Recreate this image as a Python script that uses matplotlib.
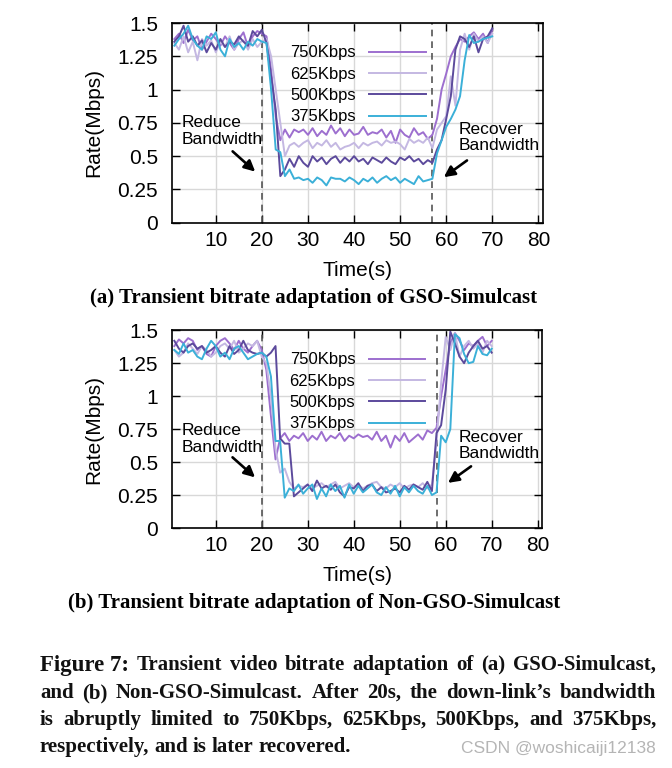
import numpy as np
import matplotlib
matplotlib.use('Agg')
import matplotlib.pyplot as plt

plt.rcParams['font.family'] = ['Liberation Sans', 'DejaVu Sans']

# time axis (seconds)
t = np.arange(1, 71)

# (a) GSO-Simulcast
gso_750 = [1.38, 1.42, 1.35, 1.45, 1.37, 1.40, 1.30, 1.36, 1.42, 1.38,
           1.33, 1.40, 1.35, 1.30, 1.38, 1.43, 1.32, 1.40, 1.44, 1.42,
           1.40, 1.15, 0.80, 0.62, 0.70, 0.64, 0.70, 0.68, 0.70, 0.66,
           0.71, 0.65, 0.69, 0.66, 0.73, 0.67, 0.71, 0.65, 0.70, 0.66,
           0.67, 0.72, 0.66, 0.68, 0.67, 0.70, 0.64, 0.69, 0.60, 0.70,
           0.66, 0.64, 0.71, 0.66, 0.68, 0.63, 0.66, 0.78, 1.00, 1.12,
           1.25, 1.32, 1.38, 1.36, 1.40, 1.43, 1.38, 1.42, 1.35, 1.45]
gso_625 = [1.35, 1.30, 1.40, 1.28, 1.36, 1.22, 1.38, 1.33, 1.37, 1.28,
           1.36, 1.32, 1.40, 1.30, 1.35, 1.37, 1.30, 1.38, 1.32, 1.36,
           1.38, 1.25, 1.00, 0.75, 0.50, 0.58, 0.60, 0.57, 0.60, 0.62,
           0.56, 0.60, 0.58, 0.62, 0.57, 0.60, 0.55, 0.57, 0.58, 0.60,
           0.56, 0.60, 0.58, 0.60, 0.61, 0.58, 0.62, 0.60, 0.61, 0.59,
           0.55, 0.63, 0.60, 0.62, 0.60, 0.64, 0.56, 0.70, 0.75, 0.80,
           1.10, 0.88, 1.30, 1.42, 1.30, 1.42, 1.36, 1.40, 1.35, 1.42]
gso_500 = [1.36, 1.40, 1.48, 1.36, 1.40, 1.33, 1.37, 1.28, 1.35, 1.30,
           1.38, 1.32, 1.36, 1.34, 1.40, 1.36, 1.33, 1.44, 1.40, 1.45,
           1.35, 1.10, 0.85, 0.35, 0.40, 0.48, 0.42, 0.50, 0.45, 0.42,
           0.50, 0.46, 0.49, 0.44, 0.48, 0.50, 0.45, 0.49, 0.46, 0.50,
           0.46, 0.48, 0.44, 0.49, 0.47, 0.45, 0.49, 0.46, 0.44, 0.49,
           0.47, 0.50, 0.46, 0.48, 0.44, 0.47, 0.45, 0.55, 0.62, 0.78,
           0.95, 1.30, 1.40, 1.38, 1.32, 1.40, 1.28, 1.38, 1.40, 1.46]
gso_375 = [1.33, 1.38, 1.42, 1.48, 1.38, 1.33, 1.30, 1.40, 1.38, 1.43,
           1.30, 1.25, 1.38, 1.32, 1.35, 1.30, 1.36, 1.33, 1.38, 1.36,
           1.35, 1.00, 0.55, 0.53, 0.35, 0.40, 0.33, 0.34, 0.32, 0.33,
           0.30, 0.34, 0.32, 0.28, 0.34, 0.33, 0.33, 0.31, 0.34, 0.32,
           0.29, 0.33, 0.31, 0.34, 0.30, 0.33, 0.35, 0.32, 0.34, 0.30,
           0.33, 0.31, 0.29, 0.35, 0.31, 0.32, 0.33, 0.52, 0.62, 0.72,
           0.78, 0.85, 0.95, 1.22, 1.41, 1.35, 1.36, 1.38, 1.39, 1.40]

# (b) Non-GSO-Simulcast
non_750 = [1.38, 1.43, 1.40, 1.44, 1.42, 1.35, 1.38, 1.32, 1.30, 1.38,
           1.42, 1.44, 1.40, 1.35, 1.42, 1.36, 1.33, 1.38, 1.42, 1.35,
           1.20, 0.85, 0.52, 0.68, 0.72, 0.66, 0.70, 0.68, 0.72, 0.66,
           0.70, 0.67, 0.73, 0.66, 0.70, 0.68, 0.72, 0.66, 0.70, 0.68,
           0.71, 0.69, 0.70, 0.67, 0.73, 0.66, 0.70, 0.61, 0.70, 0.66,
           0.72, 0.65, 0.68, 0.71, 0.67, 0.74, 0.72, 0.76, 1.00, 1.20,
           1.40, 1.48, 1.42, 1.35, 1.40, 1.38, 1.42, 1.45, 1.38, 1.42]
non_625 = [1.35, 1.30, 1.33, 1.40, 1.36, 1.32, 1.38, 1.35, 1.30, 1.33,
           1.38, 1.40, 1.36, 1.42, 1.33, 1.36, 1.40, 1.38, 1.42, 1.30,
           1.25, 1.00, 0.60, 0.42, 0.45, 0.35, 0.30, 0.32, 0.31, 0.33,
           0.30, 0.32, 0.34, 0.31, 0.33, 0.35, 0.30, 0.32, 0.34, 0.31,
           0.33, 0.30, 0.32, 0.34, 0.35, 0.31, 0.30, 0.33, 0.31, 0.34,
           0.30, 0.32, 0.33, 0.31, 0.34, 0.30, 0.33, 0.65, 1.10, 1.45,
           1.35, 1.48, 1.30, 1.38, 1.42, 1.36, 1.40, 1.33, 1.42, 1.38]
non_500 = [1.42, 1.36, 1.33, 1.38, 1.40, 1.36, 1.38, 1.33, 1.35, 1.38,
           1.33, 1.30, 1.38, 1.32, 1.35, 1.42, 1.35, 1.33, 1.32, 1.33,
           1.30, 1.33, 1.38, 0.68, 0.64, 0.64, 0.24, 0.27, 0.30, 0.33,
           0.28, 0.36, 0.30, 0.32, 0.29, 0.33, 0.27, 0.24, 0.31, 0.30,
           0.34, 0.28, 0.32, 0.33, 0.28, 0.31, 0.27, 0.28, 0.30, 0.27,
           0.32, 0.29, 0.33, 0.31, 0.29, 0.35, 0.28, 0.72, 0.78, 1.05,
           1.49, 1.40, 1.30, 1.25, 1.33, 1.38, 1.42, 1.36, 1.38, 1.33]
non_375 = [1.35, 1.32, 1.40, 1.33, 1.35, 1.30, 1.28, 1.36, 1.42, 1.38,
           1.30, 1.33, 1.28, 1.36, 1.38, 1.33, 1.28, 1.30, 1.32, 1.33,
           1.30, 1.15, 0.66, 0.66, 0.23, 0.30, 0.28, 0.33, 0.26, 0.30,
           0.33, 0.22, 0.30, 0.24, 0.33, 0.28, 0.32, 0.23, 0.33, 0.26,
           0.32, 0.27, 0.30, 0.33, 0.27, 0.25, 0.31, 0.26, 0.32, 0.24,
           0.31, 0.27, 0.32, 0.28, 0.26, 0.32, 0.25, 0.27, 0.70, 0.65,
           0.75, 1.47, 1.44, 1.32, 1.25, 1.26, 1.38, 1.32, 1.31, 1.36]

labels = ['750Kbps', '625Kbps', '500Kbps', '375Kbps']
colors = ['#9d6fcf', '#c4b8e2', '#5c4a9c', '#3bb0d8']
events_a = [20, 57]   # reduce / recover bandwidth
events_b = [20, 58]

y_ticks = [0, 0.25, 0.5, 0.75, 1, 1.25, 1.5]
y_ticklabels = ['0', '0.25', '0.5', '0.75', '1', '1.25', '1.5']
x_ticks = [10, 20, 30, 40, 50, 60, 70, 80]

fig = plt.figure(figsize=(6.72, 7.68), dpi=100)
ax_a = fig.add_axes([0.256, 0.710, 0.552, 0.260])
ax_b = fig.add_axes([0.256, 0.3125, 0.551, 0.2575])


def draw_panel(ax, series, events, caption, cap_y, note_y):
    for s, c, lab in zip(series, colors, labels):
        ax.plot(t, s, color=c, lw=1.4, label=lab)
    for e in events:
        ax.axvline(e, color='#555555', lw=1.2, ls=(0, (4, 3)), zorder=1)
    ax.set_xlim(0.5, 81)
    ax.set_ylim(0, 1.5)
    ax.set_xticks(x_ticks)
    ax.set_yticks(y_ticks)
    ax.set_yticklabels(y_ticklabels)
    ax.grid(True, color='#d8d8d8', lw=1.0, zorder=0)
    ax.set_axisbelow(True)
    ax.tick_params(direction='in', length=6, width=1, top=True, right=True,
                   labelsize=15)
    ax.tick_params(axis='y', pad=10)
    ax.tick_params(axis='x', pad=6)
    for sp in ax.spines.values():
        sp.set_linewidth(1.2)
    ax.set_ylabel('Rate(Mbps)', fontsize=15, labelpad=10)
    ax.set_xlabel('Time(s)', fontsize=15, labelpad=8)
    ax.legend(loc='upper left', bbox_to_anchor=(0.295, 0.93), frameon=False,
              markerfirst=False, fontsize=12, handlelength=3.4,
              handletextpad=0.8, labelspacing=0.38, borderpad=0)
    ax.text(2.5, note_y[0], 'Reduce\nBandwidth', fontsize=12.5, va='center',
            ha='left', linespacing=1.15)
    ax.annotate('', xy=(events[0] - 1.0, 0.37), xytext=(events[0] - 6.8, 0.55),
                arrowprops=dict(arrowstyle='-|>', color='black', lw=1.9,
                                mutation_scale=16))
    ax.text(62.8, note_y[1], 'Recover\nBandwidth', fontsize=12.5, va='center',
            ha='left', linespacing=1.15)
    ax.annotate('', xy=(events[1] + 2.0, 0.33), xytext=(events[1] + 8.0, 0.48),
                arrowprops=dict(arrowstyle='-|>', color='black', lw=1.9,
                                mutation_scale=16))
    fig.text(0.467, cap_y, caption, fontsize=15, fontweight='bold',
             family='Liberation Serif', ha='center', va='center')


draw_panel(ax_a, [gso_750, gso_625, gso_500, gso_375], events_a,
           '(a) Transient bitrate adaptation of GSO-Simulcast', 1 - 298 / 768,
           (0.69, 0.64))
draw_panel(ax_b, [non_750, non_625, non_500, non_375], events_b,
           '(b) Transient bitrate adaptation of Non-GSO-Simulcast', 1 - 603 / 768,
           (0.675, 0.625))

# figure caption, justified between two edges
cap_lines = [
    [('Figure 7:', 16.5)] + [(w, 15) for w in "Transient video bitrate adaptation of (a) GSO-Simulcast,".split()],
    [(w, 15) for w in "and (b) Non-GSO-Simulcast. After 20s, the down-link\u2019s bandwidth".split()],
    [(w, 15) for w in "is abruptly limited to 750Kbps, 625Kbps, 500Kbps, and 375Kbps,".split()],
    [(w, 15) for w in "respectively, and is later recovered.".split()],
]
cap_ys = [665, 693, 720, 747]
x0, x1 = 40, 656
renderer = fig.canvas.get_renderer()
for i, (words, ypx) in enumerate(zip(cap_lines, cap_ys)):
    objs = []
    for w, sz in words:
        objs.append(fig.text(0, 1 - ypx / 768, w, fontsize=sz, fontweight='bold',
                             family='Liberation Serif', va='center', ha='left',
                             color='#111111'))
    widths = [o.get_window_extent(renderer).width for o in objs]
    if i < len(cap_lines) - 1:
        gap = (x1 - x0 - sum(widths)) / (len(objs) - 1)
    else:
        gap = 5
    x = x0
    for o, wd in zip(objs, widths):
        o.set_x(x / 672)
        x += wd + gap

fig.text(656 / 672, 1 - 748 / 768, 'CSDN @woshicaiji12138', fontsize=12.5,
         color='#b5b5b5', ha='right', va='center')

fig.savefig('out.png', dpi=100)
